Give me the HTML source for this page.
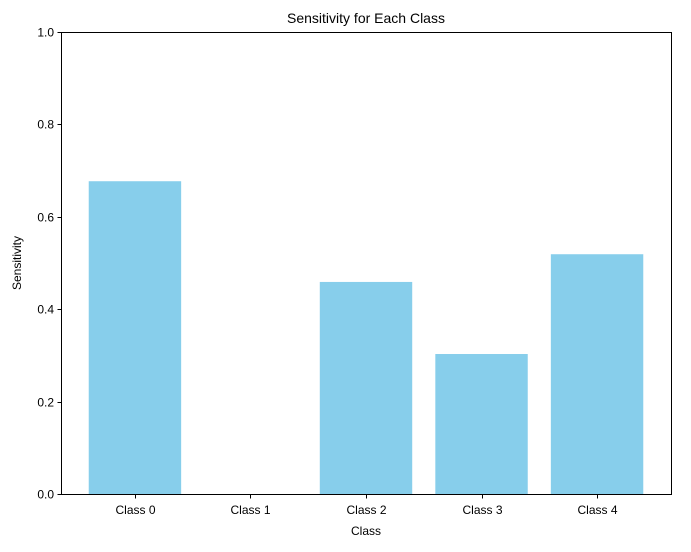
<!DOCTYPE html>
<html><head><meta charset="utf-8"><style>
body{margin:0;background:#fff;}
svg text{font-family:"Liberation Sans","DejaVu Sans",sans-serif;fill:#000;}
</style></head><body>
<svg id="chart" width="691" height="547" viewBox="0 0 691 547">
<text x="366" y="23" font-size="14" text-anchor="middle">Sensitivity for Each Class</text>
<g id="bars"></g>
<g id="yticks"></g>
<g id="xticks"></g>
<rect x="61.5" y="32.5" width="610" height="462" fill="none" stroke="#000" stroke-width="1"/>
<text x="366" y="535" font-size="12" text-anchor="middle">Class</text>
<text x="0" y="0" font-size="12" text-anchor="middle" transform="translate(21,263) rotate(-90)">Sensitivity</text>
</svg>
<script>
const categories=["Class 0","Class 1","Class 2","Class 3","Class 4"];
const values=[0.677,0,0.459,0.303,0.519];
const yTickLabels=["0.0","0.2","0.4","0.6","0.8","1.0"];
const yTickValues=[0,0.2,0.4,0.6,0.8,1.0];
const NS="http://www.w3.org/2000/svg";
const x0=61,x1=671,y0=494,y1=32;
const xmin=-0.64,xmax=4.64;
function xs(i){return x0+(i-xmin)/(xmax-xmin)*(x1-x0);}
function ys(v){return y0-v*(y0-y1);}
const bw=(xs(0.8)-xs(0));
const bars=document.getElementById('bars');
values.forEach((v,i)=>{
 const r=document.createElementNS(NS,'rect');
 r.setAttribute('x',xs(i)-bw/2);r.setAttribute('y',ys(v));
 r.setAttribute('width',bw);r.setAttribute('height',ys(0)-ys(v));
 r.setAttribute('fill','#87ceeb');
 
 
 bars.appendChild(r);
});
const yt=document.getElementById('yticks');
yTickValues.forEach((v,i)=>{
 const y=Math.round(ys(v))+0.5;
 const l=document.createElementNS(NS,'line');
 l.setAttribute('x1',57.5);l.setAttribute('x2',61.5);l.setAttribute('y1',y);l.setAttribute('y2',y);l.setAttribute('stroke','#000');
 
 
 yt.appendChild(l);
 const t=document.createElementNS(NS,'text');
 t.setAttribute('x',54);t.setAttribute('y',y+4);t.setAttribute('font-size','12');t.setAttribute('text-anchor','end');
 t.textContent=yTickLabels[i];
 
 
 yt.appendChild(t);
});
const xt=document.getElementById('xticks');
categories.forEach((c,i)=>{
 const x=Math.round(xs(i))+0.5;
 const l=document.createElementNS(NS,'line');
 l.setAttribute('x1',x);l.setAttribute('x2',x);l.setAttribute('y1',494.5);l.setAttribute('y2',498.5);l.setAttribute('stroke','#000');
 
 
 xt.appendChild(l);
 const t=document.createElementNS(NS,'text');
 t.setAttribute('x',x);t.setAttribute('y',514);t.setAttribute('font-size','12');t.setAttribute('text-anchor','middle');
 t.textContent=c;
 
 
 xt.appendChild(t);
});
</script>
</body></html>
